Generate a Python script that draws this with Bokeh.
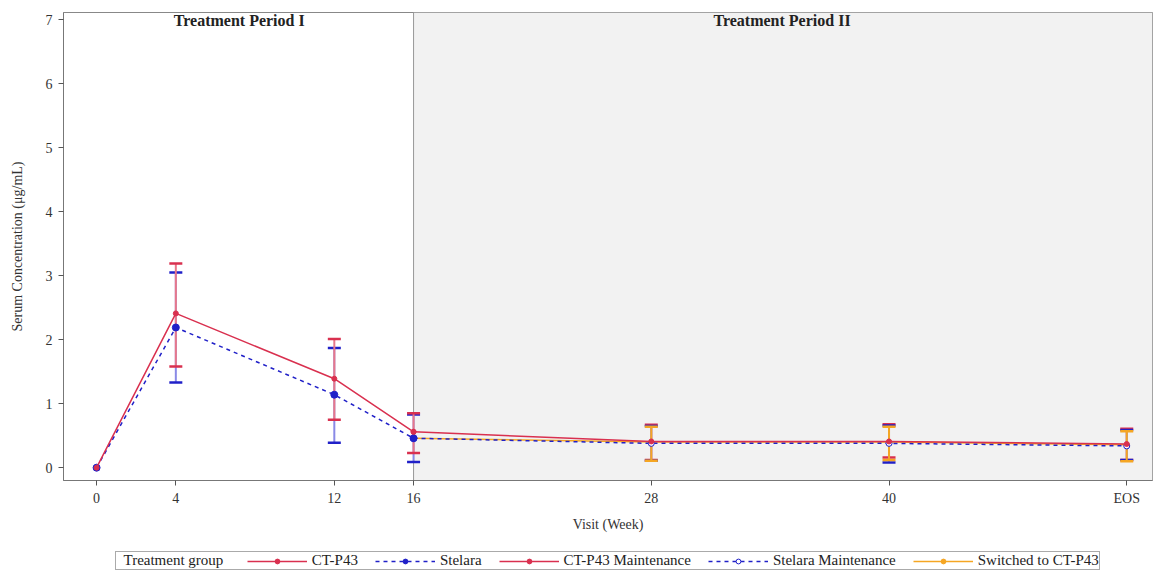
from bokeh.plotting import figure
from bokeh.layouts import column
from bokeh.models import BoxAnnotation, Span, Label, Legend, LegendItem, FixedTicker
from bokeh.embed import file_html
from bokeh.resources import INLINE

# ---------------- data ----------------
weeks_p1 = [0, 4, 12, 16]
ctp43_mean = [0.0, 2.41, 1.39, 0.56]
stelara_mean = [0.0, 2.19, 1.14, 0.46]
err_weeks_p1 = [4, 12, 16]
ctp43_lo = [1.58, 0.75, 0.23]
ctp43_hi = [3.19, 2.01, 0.85]
stelara_lo = [1.33, 0.39, 0.09]
stelara_hi = [3.05, 1.87, 0.83]

weeks_p2 = [16, 28, 40, 52]
ctp43m_mean = [0.56, 0.41, 0.41, 0.37]
stelaram_mean = [0.46, 0.38, 0.38, 0.34]
switched_mean = [0.46, 0.40, 0.40, 0.36]
err_weeks_p2 = [28, 40, 52]
ctp43m_lo = [0.12, 0.16, 0.12]
ctp43m_hi = [0.67, 0.68, 0.61]
stelaram_lo = [0.11, 0.08, 0.12]
stelaram_hi = [0.65, 0.66, 0.59]
switched_lo = [0.11, 0.12, 0.10]
switched_hi = [0.64, 0.64, 0.57]

x_ticks = [0, 4, 12, 16, 28, 40, 52]
x_tick_labels = ["0", "4", "12", "16", "28", "40", "EOS"]
y_ticks = [0, 1, 2, 3, 4, 5, 6, 7]
period_boundary = 16
period_titles = ["Treatment Period I", "Treatment Period II"]
period_title_x = [7.2, 34.6]
legend_title = "Treatment group"
legend_labels = ["CT-P43", "Stelara", "CT-P43 Maintenance", "Stelara Maintenance", "Switched to CT-P43"]

# ---------------- styling ----------------
FONT = "Liberation Serif"
RED = "#d9304f"
RED_BAR = "#e8788a"
BLUE = "#2020c8"
BLUE_BAR = "#8a8ae6"
ORANGE = "#f5a623"

styles = [
    dict(color=RED, dash="solid", size=5, fill=RED),
    dict(color=BLUE, dash="4 4", size=7, fill=BLUE),
    dict(color=RED, dash="solid", size=5, fill=RED),
    dict(color=BLUE, dash="4 4", size=6, fill="white"),
    dict(color=ORANGE, dash="solid", size=5, fill=ORANGE),
]

p = figure(width=1154, height=536, x_range=(-1.67, 53.3), y_range=(-0.2, 7.11),
           output_backend="svg", toolbar_location=None,
           min_border_left=63, min_border_right=2, min_border_top=12, min_border_bottom=56)
p.background_fill_color = "white"
p.border_fill_color = "white"
p.outline_line_color = "#888888"
p.grid.visible = False

p.xaxis.ticker = FixedTicker(ticks=x_ticks)
p.xaxis.major_label_overrides = {t: l for t, l in zip(x_ticks, x_tick_labels)}
p.yaxis.ticker = FixedTicker(ticks=y_ticks)
for ax in (p.xaxis, p.yaxis):
    ax.axis_line_color = "#777777"
    ax.major_tick_line_color = "#555555"
    ax.major_tick_out = 5
    ax.major_tick_in = 0
    ax.minor_tick_line_color = None
    ax.major_label_text_font = FONT
    ax.major_label_text_font_size = "14px"
    ax.major_label_text_color = "#333333"
    ax.axis_label_text_font = FONT
    ax.axis_label_text_font_size = "14px"
    ax.axis_label_text_font_style = "normal"
    ax.axis_label_text_color = "#333333"
p.xaxis.axis_label = "Visit (Week)"
p.yaxis.axis_label = "Serum Concentration (\u03bcg/mL)"
p.xaxis.major_label_standoff = 5
p.xaxis.axis_label_standoff = 8
p.yaxis.major_label_standoff = 6
p.yaxis.axis_label_standoff = 18

# Period II shading and boundary
p.add_layout(BoxAnnotation(left=period_boundary, fill_color="#f2f2f2", fill_alpha=1.0,
                           line_color=None, level="underlay"))
p.add_layout(Span(location=period_boundary, dimension="height", line_color="#999999",
                  line_width=1, level="underlay"))
for t, x in zip(period_titles, period_title_x):
    p.add_layout(Label(x=x, y=6.98, text=t, text_font=FONT, text_font_size="16px",
                       text_font_style="bold", text_align="center", text_baseline="middle",
                       text_color="#222222"))


def errbars(xs, lo, hi, bar_color, cap_color):
    p.segment(x0=xs, y0=lo, x1=xs, y1=hi, line_color=bar_color, line_width=2)
    p.scatter(xs, lo, marker="dash", size=13, line_color=cap_color, line_width=2.5)
    p.scatter(xs, hi, marker="dash", size=13, line_color=cap_color, line_width=2.5)


# error bars
errbars(err_weeks_p1, stelara_lo, stelara_hi, BLUE_BAR, BLUE)
errbars(err_weeks_p1, ctp43_lo, ctp43_hi, RED_BAR, RED)
errbars(err_weeks_p2, ctp43m_lo, ctp43m_hi, RED_BAR, RED)
errbars(err_weeks_p2, stelaram_lo, stelaram_hi, BLUE_BAR, BLUE)
errbars(err_weeks_p2, switched_lo, switched_hi, ORANGE, ORANGE)

# series lines + markers (drawn back to front)
series = [
    (weeks_p1, ctp43_mean, styles[0]),
    (weeks_p1, stelara_mean, styles[1]),
    (weeks_p2, ctp43m_mean, styles[2]),
    (weeks_p2, stelaram_mean, styles[3]),
    (weeks_p2, switched_mean, styles[4]),
]
for idx in [4, 3, 2, 1, 0]:
    xs, ys, st = series[idx]
    p.line(xs, ys, line_color=st["color"], line_width=1.5, line_dash=st["dash"])
    p.scatter(xs, ys, marker="circle", size=st["size"], fill_color=st["fill"], line_color=st["color"])

# ---------------- legend strip (separate figure below; frame aligned with p) ----------------
q = figure(width=1154, height=40, x_range=(63, 1152), y_range=(0, 40),
           output_backend="svg", toolbar_location=None,
           x_axis_type=None, y_axis_type=None,
           min_border_left=63, min_border_right=2, min_border_top=0, min_border_bottom=0)
q.outline_line_color = None
q.grid.visible = False
q.background_fill_color = "white"
q.border_fill_color = "white"

# legend proxies: same series, but they fall outside this strip's visible range
items = []
dummy = q.line(weeks_p1, ctp43_mean, line_alpha=0)
items.append(LegendItem(label="\u00a0" * 13, renderers=[dummy]))
for (xs, ys, st), lab in zip(series, legend_labels):
    rl = q.line(xs, ys, line_color=st["color"], line_width=1.5, line_dash=st["dash"])
    rm = q.scatter(xs, ys, marker="circle", size=st["size"], fill_color=st["fill"],
                   line_color=st["color"])
    items.append(LegendItem(label=lab, renderers=[rl, rm]))

legend = Legend(items=items, orientation="horizontal", location=(52, 6))
legend.label_text_font = FONT
legend.label_text_font_size = "15px"
legend.label_text_color = "#222222"
legend.glyph_width = 60
legend.glyph_height = 12
legend.label_height = 12
legend.label_standoff = 5
legend.spacing = 17
legend.padding = 0
legend.margin = 0
legend.border_line_color = "#555555"
legend.border_line_width = 1.5
legend.background_fill_alpha = 0.0
q.add_layout(legend, "center")
q.add_layout(Label(x=123, y=17, text=legend_title, text_font=FONT, text_font_size="15px",
                   text_baseline="middle", text_color="#222222"))

open("out.html", "w").write(file_html(column(p, q), INLINE))
